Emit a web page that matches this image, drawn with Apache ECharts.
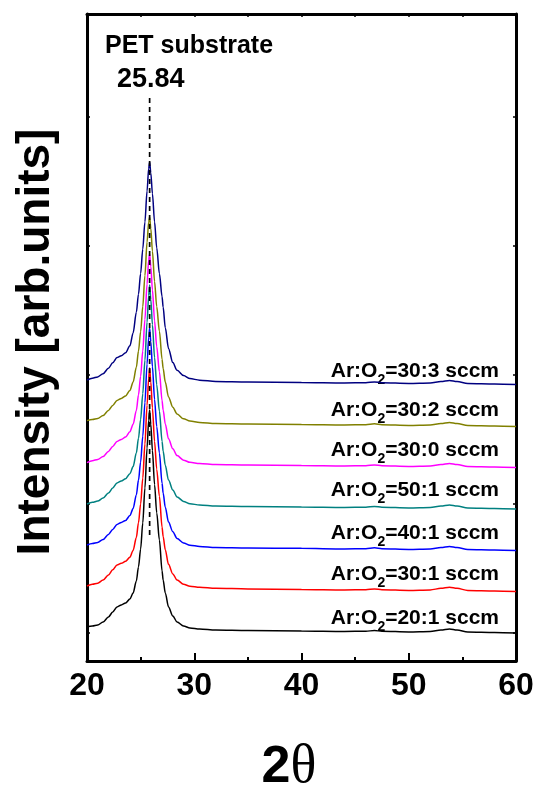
<!DOCTYPE html>
<html>
<head>
<meta charset="utf-8">
<script src="https://cdn.jsdelivr.net/npm/echarts@6/dist/echarts.min.js"></script>
<style>
html, body { margin: 0; padding: 0; background: #fff; }
#xrd { width: 537px; height: 792px; }
</style>
</head>
<body>
<div id="xrd"></div>
<script>
// 2theta grid (deg), denser around the PET peak
const twoTheta = [20.0, 20.5, 21.0, 21.5, 22.0, 22.4, 22.8, 23.2, 23.6, 24.0, 24.3, 24.6, 24.8, 25.0, 25.2, 25.4, 25.6, 25.75, 25.84, 25.95,
  26.1, 26.3, 26.5, 26.75, 27.0, 27.1, 27.3, 27.6, 28.0, 28.4, 29.0, 29.6, 30.5, 32, 35, 40, 44, 46, 46.8, 47.5,
  50, 52, 53, 53.8, 54.5, 55.5, 58, 60]

// intensities (arb. units, curves already stacked)
const ar20o1 = [49, 54, 62, 85, 124, 163, 202, 217, 233, 264, 310, 403, 512, 651, 853, 1124, 1434, 1650, 1729, 1618,
  1415, 1150, 932, 721, 481, 411, 310, 202, 132, 85, 54, 39, 31, 23, 19, 16, 12, 14, 19, 14, 8, 12, 23, 31, 23, 8, 4, 0]
const ar30o1 = [364, 378, 386, 410, 450, 490, 528, 540, 556, 588, 640, 740, 855, 1000, 1200, 1465, 1765, 1975, 2054, 1945,
  1745, 1485, 1270, 1060, 820, 748, 645, 532, 458, 410, 378, 363, 354, 346, 342, 338, 334, 336, 342, 336, 330, 334, 346, 354, 346, 330, 326, 322]
const ar40o1 = [682, 694, 702, 725, 764, 803, 842, 857, 873, 910, 965, 1070, 1185, 1325, 1525, 1785, 2085, 2290, 2364, 2258,
  2065, 1810, 1600, 1395, 1160, 1085, 975, 860, 785, 733, 698, 681, 671, 663, 659, 656, 652, 654, 660, 654, 648, 652, 663, 671, 663, 648, 644, 640]
const ar50o1 = [1000, 1013, 1023, 1046, 1085, 1124, 1163, 1178, 1196, 1235, 1290, 1395, 1510, 1655, 1855, 2115, 2410, 2615, 2698, 2585,
  2390, 2135, 1925, 1720, 1485, 1410, 1300, 1185, 1108, 1055, 1020, 1002, 992, 984, 980, 977, 973, 975, 981, 975, 969, 973, 984, 992, 984, 969, 965, 961]
const ar30o0 = [1320, 1336, 1345, 1368, 1407, 1446, 1485, 1500, 1520, 1560, 1618, 1725, 1845, 1990, 2185, 2430, 2705, 2890, 2938, 2840,
  2660, 2420, 2220, 2025, 1800, 1728, 1620, 1505, 1428, 1375, 1340, 1323, 1314, 1306, 1302, 1299, 1295, 1297, 1303, 1297, 1291, 1295, 1306, 1314, 1306, 1291, 1287, 1283]
const ar30o2 = [1646, 1655, 1663, 1686, 1725, 1764, 1803, 1818, 1838, 1880, 1945, 2060, 2185, 2335, 2530, 2770, 3030, 3185, 3225, 3135,
  2960, 2725, 2530, 2340, 2120, 2050, 1945, 1830, 1750, 1698, 1660, 1643, 1632, 1624, 1620, 1617, 1613, 1615, 1621, 1615, 1609, 1613, 1624, 1632, 1624, 1609, 1605, 1601]
const ar30o3 = [1961, 1975, 1985, 2010, 2052, 2095, 2135, 2150, 2172, 2226, 2326, 2486, 2626, 2786, 2976, 3186, 3426, 3600, 3651, 3566,
  3406, 3186, 2986, 2786, 2606, 2526, 2366, 2206, 2096, 2036, 1996, 1972, 1960, 1950, 1946, 1942, 1938, 1940, 1946, 1940, 1934, 1938, 1950, 1958, 1950, 1934, 1930, 1926]

const seriesData = [ar20o1, ar30o1, ar40o1, ar50o1, ar30o0, ar30o2, ar30o3]
const seriesNames = ['Ar:O2=20:1 sccm', 'Ar:O2=30:1 sccm', 'Ar:O2=40:1 sccm', 'Ar:O2=50:1 sccm', 'Ar:O2=30:0 sccm', 'Ar:O2=30:2 sccm', 'Ar:O2=30:3 sccm']
const labelTexts = ['Ar:O{s|2}=20:1 sccm', 'Ar:O{s|2}=30:1 sccm', 'Ar:O{s|2}=40:1 sccm', 'Ar:O{s|2}=50:1 sccm', 'Ar:O{s|2}=30:0 sccm', 'Ar:O{s|2}=30:2 sccm', 'Ar:O{s|2}=30:3 sccm']
const colors = ['#000000', '#ff0000', '#0000ff', '#008080', '#ff00ff', '#808000', '#000080']
const labelY = [617, 573, 532, 489, 449, 409, 370]

const peakPos = 25.84
const peakLine = [760, 4155]
const xTicks = [20, 30, 40, 50, 60]
const yTicks = [0, 1000, 2000, 3000, 4000]

const font = 'Liberation Sans, Arial, sans-serif'
const chart = echarts.init(document.getElementById('xrd'))

const series = seriesData.map((vals, i) => ({
  name: seriesNames[i],
  type: 'line',
  data: twoTheta.map((x, j) => [x, vals[j]]),
  symbol: 'none',
  smooth: 0.3,
  smoothMonotone: 'x',
  lineStyle: { color: colors[i], width: 1.5 },
  silent: true
}))
series.push({
  name: 'peak',
  type: 'line',
  data: peakLine.map(v => [peakPos, v]),
  symbol: 'none',
  z: 5,
  lineStyle: { color: '#000', width: 1.7, type: [5, 4] }
})

const labels = labelTexts.map((t, i) => ({
  type: 'text',
  right: 537 - 499,
  top: labelY[i] - 9,
  style: {
    text: t,
    font: 'bold 21px ' + font,
    fill: '#000',
    rich: { s: { fontSize: 14, fontWeight: 'bold', fontFamily: font, padding: [18, 0, 0, 0] } }
  }
}))

const option = {
  animation: false,
  backgroundColor: '#fff',
  grid: { left: 87, right: 21, top: 14, bottom: 131 },
  xAxis: [{
    type: 'value', min: 20, max: 60, interval: 10, position: 'bottom',
    axisLine: { onZero: false, lineStyle: { color: '#000', width: 3 } },
    axisTick: { inside: true, length: 8, lineStyle: { width: 2, color: '#000' } },
    minorTick: { show: true, splitNumber: 2, length: 4, lineStyle: { width: 2, color: '#000' } },
    axisLabel: { color: '#000', fontSize: 32, fontWeight: 'bold', fontFamily: font, margin: 9,
      customValues: xTicks },
    splitLine: { show: false }
  }, {
    type: 'value', min: 20, max: 60, interval: 5, position: 'top',
    axisLine: { onZero: false, lineStyle: { color: '#000', width: 3 } },
    axisTick: { inside: true, length: 3, lineStyle: { width: 1.5, color: '#000' } },
    axisLabel: { show: false },
    splitLine: { show: false }
  }],
  yAxis: [{
    type: 'value', min: -217, max: 4798, position: 'left',
    axisLine: { show: true, onZero: false, lineStyle: { color: '#000', width: 3 } },
    axisTick: { show: true, inside: true, length: 3, customValues: yTicks, lineStyle: { width: 1.5, color: '#000' } },
    axisLabel: { show: false },
    splitLine: { show: false }
  }, {
    type: 'value', min: -217, max: 4798, position: 'right',
    axisLine: { show: true, onZero: false, lineStyle: { color: '#000', width: 3 } },
    axisTick: { show: true, inside: true, length: 3, customValues: yTicks, lineStyle: { width: 1.5, color: '#000' } },
    axisLabel: { show: false },
    splitLine: { show: false }
  }],
  series: series,
  graphic: labels.concat([
    {
      type: 'text', left: 105, top: 34,
      style: { text: 'PET substrate', font: 'bold 25px ' + font, fill: '#000' }
    },
    {
      type: 'text', left: 117, top: 66,
      style: { text: '25.84', font: 'bold 27px ' + font, fill: '#000' }
    },
    {
      type: 'text', x: 36, y: 342, rotation: Math.PI / 2,
      style: { text: 'Intensity [arb.units]', font: 'bold 46px ' + font, fill: '#000', align: 'center', verticalAlign: 'middle' }
    },
    {
      type: 'text', x: 289, y: 768,
      style: {
        text: '{a|2}{b|θ}', align: 'center', verticalAlign: 'middle',
        rich: {
          a: { fontSize: 52, fontWeight: 'bold', fontFamily: font, fill: '#000' },
          b: { fontSize: 54, fontFamily: 'Liberation Serif, serif', fill: '#000' }
        }
      }
    }
  ])
}

chart.setOption(option)
</script>
</body>
</html>
